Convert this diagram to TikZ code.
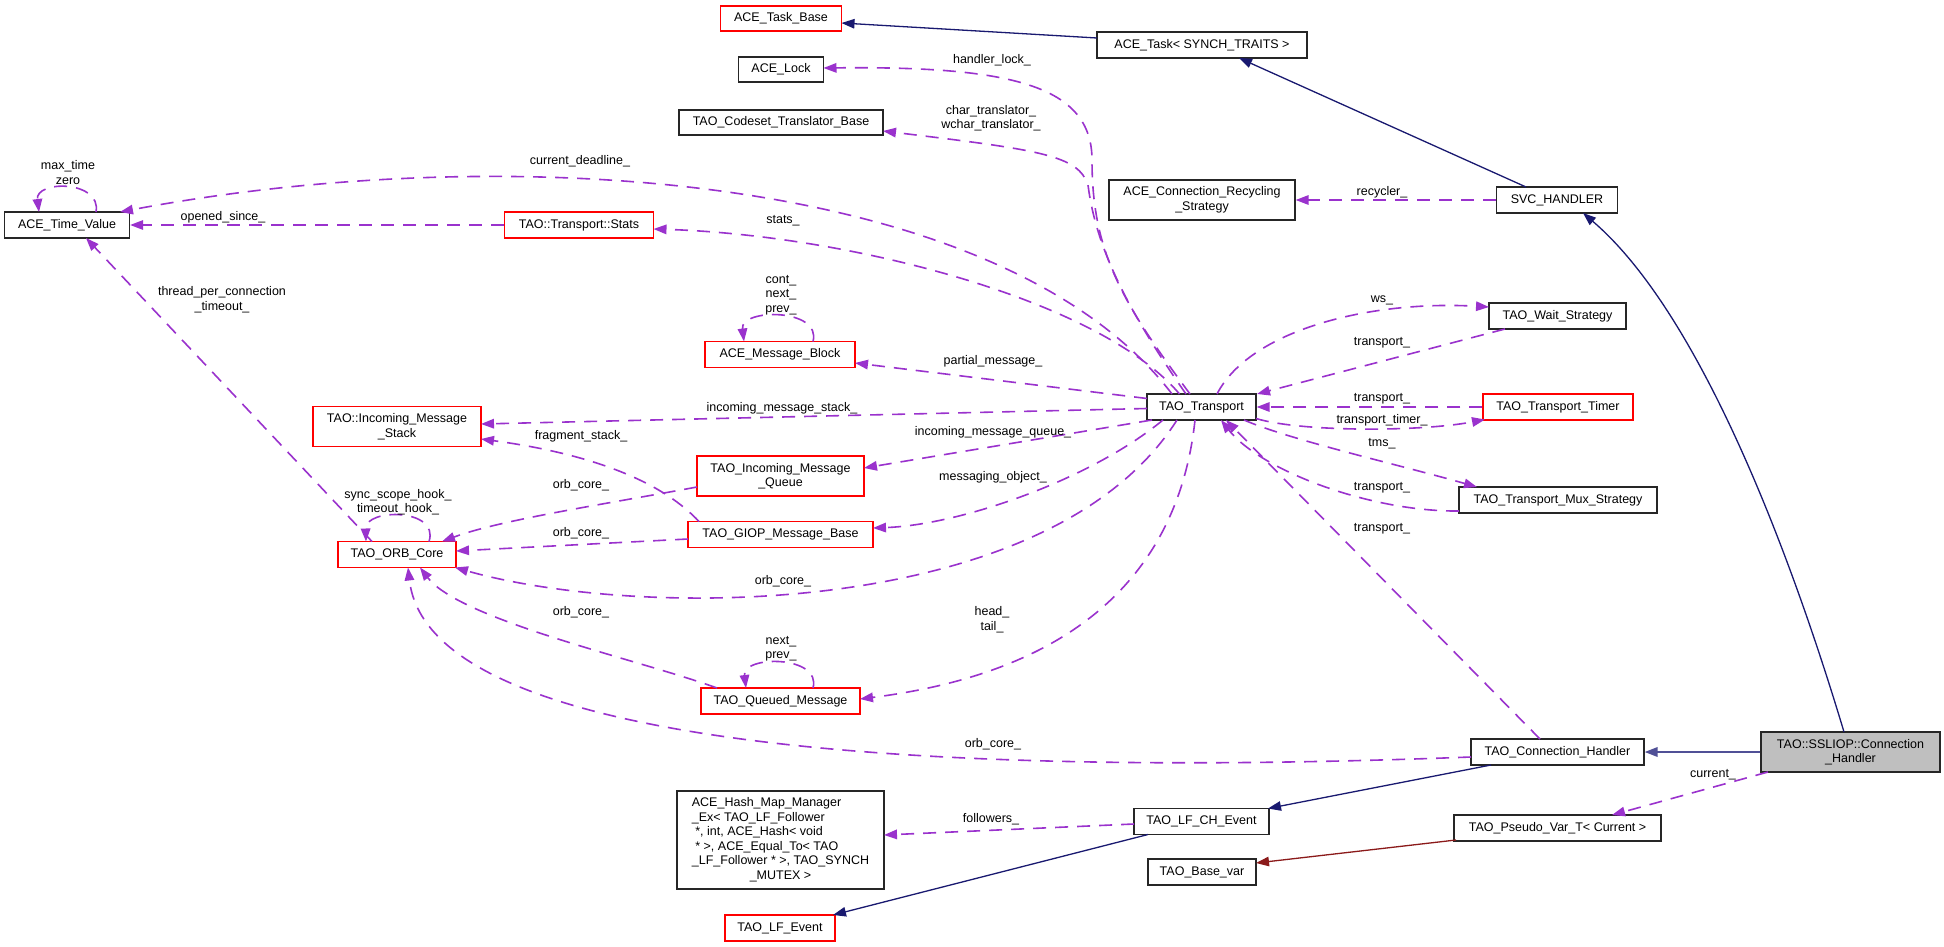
\documentclass[tikz,border=0pt]{standalone}
\usepackage{fontspec}
\setmainfont{Liberation Sans}
\usetikzlibrary{arrows.meta}
\definecolor{purp}{HTML}{9A32CD}
\definecolor{mblue}{HTML}{191970}
\definecolor{fbrick}{HTML}{8B1A1A}
\definecolor{boxred}{HTML}{FF0000}
\definecolor{grayfill}{HTML}{BFBFBF}
\newcommand{\dfont}{\fontsize{12.5}{14.5}\selectfont}
\tikzset{
  cls/.style={rectangle, draw=black!85, line width=1.3pt, fill=white, inner sep=0pt, font=\dfont},
  rcls/.style={cls, draw=boxred},
  lbl/.style={inner sep=0pt, align=center, font=\dfont},
  usage/.style={draw=purp, line width=1.6pt, dash pattern=on 13pt off 9pt, -{Triangle[length=13pt,width=9.5pt]}},
  inh/.style={draw=mblue, line width=1.3pt, -{Triangle[length=13pt,width=9.5pt]}},
  tmpl/.style={draw=fbrick, line width=1.3pt, -{Triangle[length=13pt,width=9.5pt]}},
}
\begin{document}
\begin{tikzpicture}[x=1pt,y=-1pt]
\fill[white] (0,0) rectangle (1944,947);
\useasboundingbox (0,0) rectangle (1944,947);

% ---- class nodes
\node[cls, minimum width=125pt, minimum height=26pt] (atv) at (67,225) {ACE\_Time\_Value};
\node[rcls, minimum width=149pt, minimum height=26pt] (tts) at (579,225) {TAO::Transport::Stats};
\node[rcls, minimum width=121pt, minimum height=25pt] (atb) at (781,18.5) {ACE\_Task\_Base};
\node[cls, minimum width=210pt, minimum height=26pt] (atk) at (1202,45) {ACE\_Task< SYNCH\_TRAITS >};
\node[cls, minimum width=85pt, minimum height=25pt] (alk) at (781,69.5) {ACE\_Lock};
\node[cls, minimum width=204pt, minimum height=25pt] (ctb) at (781,122.5) {TAO\_Codeset\_Translator\_Base};
\node[cls, align=center, minimum width=186pt, minimum height=40pt] (crs) at (1202,200) {ACE\_Connection\_Recycling\\\_Strategy};
\node[cls, minimum width=121pt, minimum height=26pt] (svc) at (1557,200) {SVC\_HANDLER};
\node[rcls, align=center, minimum width=168pt, minimum height=40pt] (ims) at (397,426.5) {TAO::Incoming\_Message\\\_Stack};
\node[rcls, minimum width=118pt, minimum height=26pt] (orb) at (397,554.5) {TAO\_ORB\_Core};
\node[rcls, minimum width=150pt, minimum height=26pt] (amb) at (780,354.5) {ACE\_Message\_Block};
\node[cls, minimum width=109pt, minimum height=26pt] (tr) at (1201.5,407) {TAO\_Transport};
\node[rcls, align=center, minimum width=167pt, minimum height=40pt] (imq) at (780.5,476) {TAO\_Incoming\_Message\\\_Queue};
\node[rcls, minimum width=185pt, minimum height=26pt] (gmb) at (780.5,534.5) {TAO\_GIOP\_Message\_Base};
\node[cls, minimum width=137pt, minimum height=26pt] (tws) at (1557.5,316) {TAO\_Wait\_Strategy};
\node[rcls, minimum width=150pt, minimum height=26pt] (ttt) at (1558,407) {TAO\_Transport\_Timer};
\node[cls, minimum width=198pt, minimum height=26pt] (tms) at (1558,500) {TAO\_Transport\_Mux\_Strategy};
\node[rcls, minimum width=159pt, minimum height=26pt] (tqm) at (780.5,701) {TAO\_Queued\_Message};
\node[cls, minimum width=207pt, minimum height=98pt] (hmm) at (780.5,840) {\begin{tabular}{@{}l@{}}ACE\_Hash\_Map\_Manager\\
\_Ex< TAO\_LF\_Follower\\
\ *, int, ACE\_Hash< void\\
\ * >, ACE\_Equal\_To< TAO\\
\_LF\_Follower * >, TAO\_SYNCH\\
\multicolumn{1}{@{}c@{}}{\_MUTEX >}\end{tabular}};
\node[cls, minimum width=135pt, minimum height=26pt] (lch) at (1201.5,821.5) {TAO\_LF\_CH\_Event};
\node[cls, minimum width=108pt, minimum height=26pt] (bvar) at (1202,872) {TAO\_Base\_var};
\node[rcls, minimum width=110pt, minimum height=26pt] (lfe) at (780,928) {TAO\_LF\_Event};
\node[cls, minimum width=173pt, minimum height=26pt] (tch) at (1557.5,752) {TAO\_Connection\_Handler};
\node[cls, fill=grayfill, align=center, minimum width=179pt, minimum height=40pt] (ssl) at (1850.5,752) {TAO::SSLIOP::Connection\\\_Handler};
\node[cls, minimum width=207pt, minimum height=26pt] (pvt) at (1557.5,828) {TAO\_Pseudo\_Var\_T< Current >};

% ---- inheritance / template edges
\draw[inh] ([shift={(-31,-13)}]svc.center) -- ([shift={(37,13)}]atk.center);
\draw[inh] ([shift={(-105,-7)}]atk.center) -- ([shift={(60.5,4.5)}]atb.center);
\draw[inh] ([shift={(-6.5,-20)}]ssl.center) .. controls (1790,552) and (1700,313) .. ([shift={(26,13)}]svc.center);
\draw[inh, line width=2pt, draw={rgb,255:red,80;green,80;blue,150}] (ssl.west) -- (tch.east);
\draw[inh] ([shift={(-66.5,13)}]tch.center) -- ([shift={(66.5,-13)}]lch.center);
\draw[inh] ([shift={(-53.5,13)}]lch.center) -- ([shift={(53,-13)}]lfe.center);
\draw[tmpl] ([shift={(-101.5,12)}]pvt.center) -- ([shift={(54,-9)}]bvar.center);

% ---- usage edges
\draw[usage] ([shift={(-82.5,20)}]ssl.center) -- ([shift={(54.5,-13)}]pvt.center);
\draw[usage] ([shift={(-67.5,2.5)}]lch.center) -- ([shift={(103.5,-5)}]hmm.center);
\draw[usage] ([shift={(-86.5,5)}]tch.center) .. controls (1000,775) and (430,760) .. ([shift={(11,13)}]orb.center);
\draw[usage] ([shift={(-63.5,-13)}]tqm.center) .. controls (640,660) and (460,620) .. ([shift={(23,13)}]orb.center);
\draw[usage] ([shift={(-83.5,11)}]imq.center) .. controls (600,505) and (500,520) .. ([shift={(45,-13)}]orb.center);
\draw[usage] ([shift={(-92.5,4.5)}]gmb.center) -- ([shift={(59,-3.5)}]orb.center);
\draw[usage] ([shift={(-24.5,13)}]tr.center) .. controls (1050,620) and (640,620) .. ([shift={(58,13)}]orb.center);
\draw[usage] ([shift={(32,-13)}]orb.center) .. controls (440,508) and (365,508) .. ([shift={(-31,-13)}]orb.center);
\draw[usage] ([shift={(-25,-13)}]orb.center) -- ([shift={(19,13)}]atv.center);
\draw[usage] ([shift={(29,-13)}]atv.center) .. controls (102,180) and (35,180) .. ([shift={(-28,-13)}]atv.center);
\draw[usage] ([shift={(-29.5,-13)}]tr.center) .. controls (1000,170) and (500,140) .. ([shift={(53,-13)}]atv.center);
\draw[usage] (tts.west) -- (atv.east);
\draw[usage] ([shift={(-22,-13)}]tr.center) .. controls (1100,300) and (850,235) .. ([shift={(74.5,4)}]tts.center);
\draw[usage] ([shift={(-11.5,-13)}]tr.center) .. controls (1120,300) and (1092,250) .. (1092,160) .. controls (1092,85) and (1010,66) .. ([shift={(42.5,-1.5)}]alk.center);
\draw[usage] ([shift={(-15.5,-13)}]tr.center) .. controls (1120,300) and (1095,240) .. (1088,185) .. controls (1078,155) and (1040,150) .. ([shift={(102,8.5)}]ctb.center);
\draw[usage] ([shift={(-54.5,-8.5)}]tr.center) -- ([shift={(75,8.5)}]amb.center);
\draw[usage] ([shift={(33,-13)}]amb.center) .. controls (822,308) and (740,308) .. ([shift={(-36,-13)}]amb.center);
\draw[usage] ([shift={(-54.5,1.5)}]tr.center) -- ([shift={(84,-2.5)}]ims.center);
\draw[usage] ([shift={(-81.5,-13)}]gmb.center) .. controls (665,485) and (600,455) .. ([shift={(84,12.5)}]ims.center);
\draw[usage] ([shift={(-49.5,13)}]tr.center) -- ([shift={(83.5,-8)}]imq.center);
\draw[usage] ([shift={(-38.5,13)}]tr.center) .. controls (1090,480) and (960,525) .. ([shift={(92.5,-6.5)}]gmb.center);
\draw[usage] ([shift={(-6.5,13)}]tr.center) .. controls (1180,560) and (1090,670) .. ([shift={(79.5,-2)}]tqm.center);
\draw[usage] ([shift={(32.5,-13)}]tqm.center) .. controls (822,655) and (742,655) .. ([shift={(-34.5,-13)}]tqm.center);
\draw[usage] ([shift={(15.5,-13)}]tr.center) .. controls (1250,330) and (1370,300) .. ([shift={(-68.5,-9)}]tws.center);
\draw[usage] ([shift={(-52.5,13)}]tws.center) -- ([shift={(55.5,-13)}]tr.center);
\draw[usage] (ttt.west) -- (tr.east);
\draw[usage] ([shift={(54.5,11.5)}]tr.center) .. controls (1300,432) and (1420,432) .. ([shift={(-73,12.5)}]ttt.center);
\draw[usage] ([shift={(42.5,13)}]tr.center) .. controls (1290,440) and (1400,465) .. ([shift={(-81,-13)}]tms.center);
\draw[usage] ([shift={(-99,11)}]tms.center) .. controls (1370,512) and (1260,470) .. ([shift={(19.5,13)}]tr.center);
\draw[usage] ([shift={(-17.5,-13)}]tch.center) -- ([shift={(24.5,13)}]tr.center);
\draw[usage] (svc.west) -- (crs.east);

% ---- edge labels
\node[lbl] (l01) at (68,172.5) {max\_time\\zero};
\node[lbl] (l02) at (580,161) {current\_deadline\_};
\node[lbl] (l03) at (223,217) {opened\_since\_};
\node[lbl] (l04) at (222,299.5) {thread\_per\_connection\\\_timeout\_};
\node[lbl] (l05) at (992,60) {handler\_lock\_};
\node[lbl] (l06) at (991,118) {char\_translator\_\\wchar\_translator\_};
\node[lbl] (l07) at (783,221) {stats\_};
\node[lbl] (l08) at (781,295) {cont\_\\next\_\\prev\_};
\node[lbl] (l09) at (1382,192) {recycler\_};
\node[lbl] (l10) at (1382,300) {ws\_};
\node[lbl] (l11) at (1382,343) {transport\_};
\node[lbl] (l12) at (993,361) {partial\_message\_};
\node[lbl] (l13) at (782,408) {incoming\_message\_stack\_};
\node[lbl] (l14) at (1382,399) {transport\_};
\node[lbl] (l15) at (1382,420) {transport\_timer\_};
\node[lbl] (l16) at (581,436) {fragment\_stack\_};
\node[lbl] (l17) at (993,432) {incoming\_message\_queue\_};
\node[lbl] (l18) at (1382,444) {tms\_};
\node[lbl] (l19) at (993,477) {messaging\_object\_};
\node[lbl] (l20) at (581,485) {orb\_core\_};
\node[lbl] (l21) at (1382,488) {transport\_};
\node[lbl] (l22) at (398,502) {sync\_scope\_hook\_\\timeout\_hook\_};
\node[lbl] (l23) at (1382,529) {transport\_};
\node[lbl] (l24) at (581,533) {orb\_core\_};
\node[lbl] (l25) at (783,581) {orb\_core\_};
\node[lbl] (l26) at (581,612) {orb\_core\_};
\node[lbl] (l27) at (992,619.5) {head\_\\tail\_};
\node[lbl] (l28) at (781,649) {next\_\\prev\_};
\node[lbl] (l29) at (993,744) {orb\_core\_};
\node[lbl] (l30) at (1713,775) {current\_};
\node[lbl] (l31) at (991,819) {followers\_};
\end{tikzpicture}
\end{document}
